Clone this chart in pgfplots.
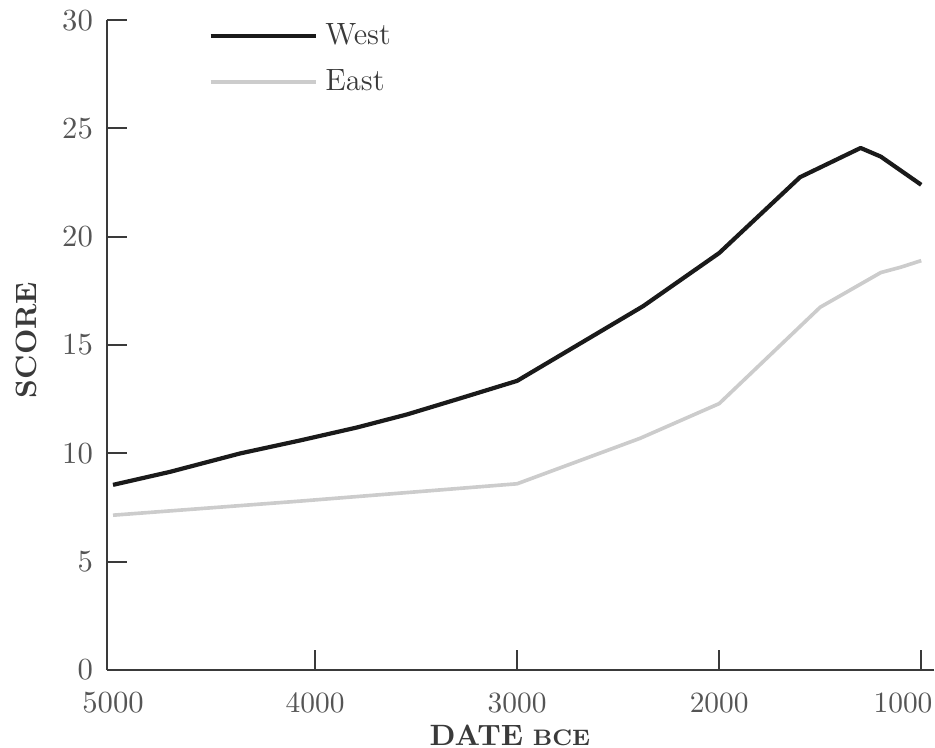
\documentclass[border=0pt]{standalone}
\usepackage{pgfplots}
\pgfplotsset{compat=1.18}
\pgfplotstableread{
year value
5000 8.55
4718 9.15
4371 10.0
4074 10.6
3792 11.2
3545 11.8
3297 12.5
3000 13.35
2376 16.8
2000 19.25
1600 22.75
1300 24.1
1200 23.7
1000 22.4
}\west
\pgfplotstableread{
year value
5000 7.15
4074 7.8
3000 8.6
2391 10.7
2000 12.3
1500 16.75
1200 18.35
1100 18.6
1000 18.9
}\east
\definecolor{westc}{HTML}{1A1A1A}
\definecolor{eastc}{HTML}{CCCCCC}
\definecolor{axc}{HTML}{3A3A3A}
\definecolor{tickc}{HTML}{555555}
\begin{document}
\begin{tikzpicture}
\begin{axis}[
  scale only axis, width=295.4pt, height=232.1pt,
  at={(0,0)}, anchor=south west,
  x dir=reverse, xmin=936, xmax=5030, ymin=0, ymax=30,
  axis x line=bottom, axis y line=left,
  axis line style={-, draw=axc, line width=0.8pt},
  xtick={1000,2000,3000,4000},
  xticklabels={{1000\rule{13pt}{0pt}},2000,3000,4000},
  extra x ticks={5000},
  extra x tick style={major tick length=0pt},
  ytick={0,5,10,15,20,25,30},
  tick align=inside, major tick length=7pt,
  tick style={draw=axc, line width=0.7pt},
  xticklabel style={font=\fontsize{10.5}{12}\selectfont, text=tickc, yshift=-4.5pt},
  yticklabel style={font=\fontsize{10.5}{12}\selectfont, text=tickc, xshift=-1.5pt},
  /pgf/number format/1000 sep={},
  xlabel={\textbf{DATE} {\footnotesize\textbf{BCE}}},
  ylabel={\textbf{SCORE}},
  label style={font=\fontsize{10.5}{12}\selectfont, text=axc},
  xlabel style={at={(axis description cs:0.487,-0.1)}, anchor=center},
  ylabel style={at={(axis description cs:-0.097,0.508)}, anchor=center, rotate=0},
  legend style={at={(axis description cs:0.112,1.02)}, anchor=north west, draw=none, fill=none,
    font=\fontsize{11}{13}\selectfont, text=axc,
    nodes={inner sep=2.7pt, text height=8.6pt, text depth=2.4pt}},
  legend cell align=left,
  legend image code/.code={\draw[#1] (0pt,0pt) -- (37.5pt,0pt);},
  clip=false,
]
\addplot[westc, line width=1.5pt, line join=round] table[x=year, y=value] {\west};
\addlegendentry{West}
\addplot[eastc, line width=1.3pt, line join=round] table[x=year, y=value] {\east};
\addlegendentry{East}
\end{axis}
\pgfresetboundingbox
\path (-38.2pt,-27.5pt) rectangle (295.7pt,239.3pt);
\end{tikzpicture}
\end{document}
